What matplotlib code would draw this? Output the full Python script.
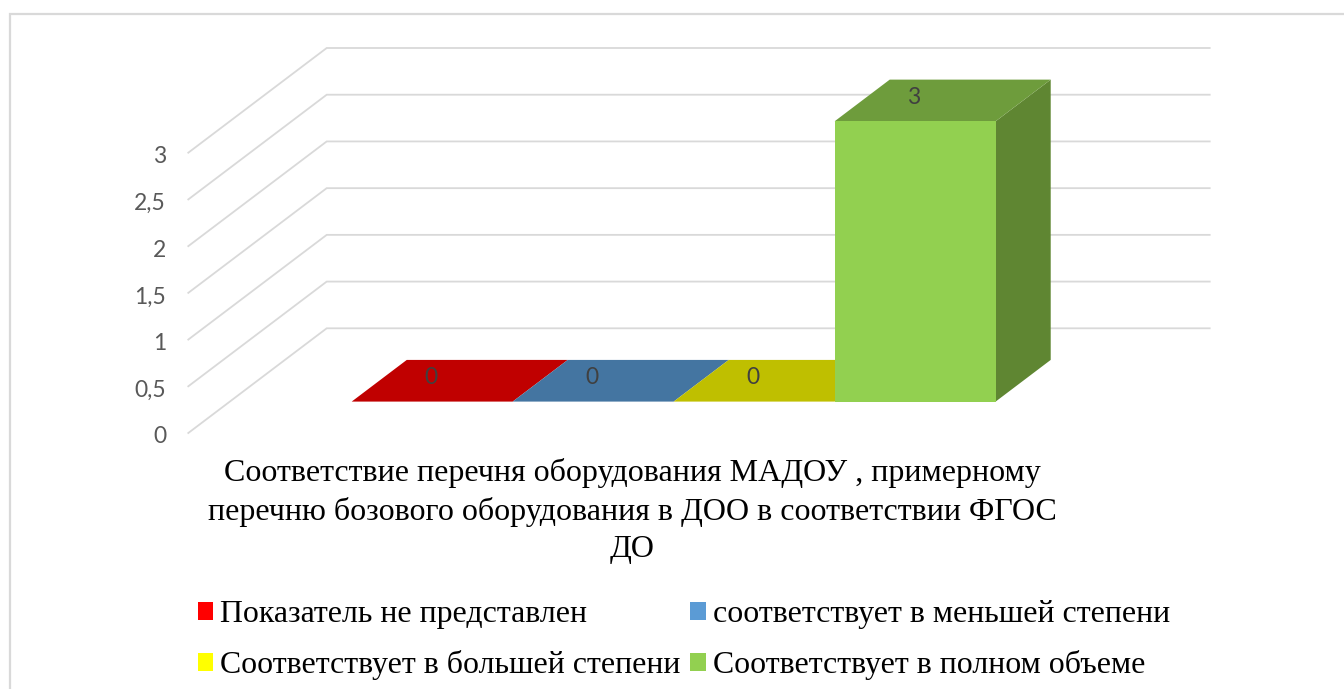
import matplotlib
matplotlib.use("Agg")
import matplotlib.pyplot as plt
from matplotlib.patches import Polygon, Rectangle
from matplotlib.lines import Line2D
from matplotlib.transforms import ScaledTranslation

# ---- data ----
series_names = ["Показатель не представлен", "соответствует в меньшей степени",
                "Соответствует в большей степени", "Соответствует в полном объеме"]
series_values = [0, 0, 0, 3]
tick_values = [0, 0.5, 1, 1.5, 2, 2.5, 3]
tick_labels = ["0", "0,5", "1", "1,5", "2", "2,5", "3"]
legend_colors = ["#FF0000", "#5B9BD5", "#FFFF00", "#92D050"]
top_colors = ["#C00000", "#4475A1", "#BFBF00", "#6E9C3C"]
side_colors = ["#A00000", "#3A6288", "#A0A000", "#5F8632"]
title_text = ("Соответствие перечня оборудования МАДОУ , примерному\n"
              "перечню бозового оборудования в ДОО в соответствии ФГОС\n"
              "ДО")

W, H = 1344, 689
fig = plt.figure(figsize=(W / 100, H / 100), dpi=100, facecolor="white")

# front plane of the 3-D box, in figure pixels
L, R, B, T = 188.3, 1071.3, 433.0, 152.7
ax = fig.add_axes([L / W, 1 - B / H, (R - L) / W, (B - T) / H])
ax.set_xlim(-1.257, 4.228)
ax.set_ylim(0, 3)
ax.patch.set_visible(False)
for s in ax.spines.values():
    s.set_visible(False)
ax.set_xticks([])
ax.set_yticks(tick_values)
ax.set_yticklabels(tick_labels, family="Lato", fontsize=16.5, color="#595959")
ax.tick_params(axis="y", length=0, pad=16)
shift = ScaledTranslation(0, -2 / 100, fig.dpi_scale_trans)
for lab in ax.get_yticklabels():
    lab.set_transform(lab.get_transform() + shift)

DX, DY = 138.4, 104.7   # depth of the box, pixels


def pts(x, y, d):
    """data point pushed back by depth d, returned in display coordinates"""
    px, py = ax.transData.transform((x, y))
    return (px + DX * d, py + DY * d)


grid_c = "#D9D9D9"
xmin, xmax = ax.get_xlim()
for v in tick_values:
    a, b, c = pts(xmin, v, 0), pts(xmin, v, 1), pts(xmax, v, 1)
    fig.add_artist(Line2D([a[0], b[0], c[0]], [a[1], b[1], c[1]], color=grid_c, lw=1.3,
                          transform=None, solid_joinstyle="miter", zorder=0.5))

d0, d1 = 0.30, 0.698
for i, v in enumerate(series_values):
    x0, x1 = i - 0.5, i + 0.5
    if v > 0:
        side = [pts(x1, 0, d0), pts(x1, 0, d1), pts(x1, v, d1), pts(x1, v, d0)]
        fig.add_artist(Polygon(side, closed=True, fc=side_colors[i], ec="none", transform=None, zorder=1))
    top = [pts(x0, v, d0), pts(x1, v, d0), pts(x1, v, d1), pts(x0, v, d1)]
    fig.add_artist(Polygon(top, closed=True, fc=top_colors[i], ec="none", transform=None, zorder=1.1))
    if v > 0:
        p0, p1 = pts(x0, 0, d0), pts(x1, v, d0)
        fig.add_artist(Polygon([p0, (p1[0], p0[1]), p1, (p0[0], p1[1])], closed=True,
                               fc=legend_colors[i], ec="none", transform=None, zorder=1.2))
    lx, ly = pts(i, v, d0)
    fig.text((lx - 1.2) / W, (ly + 23.8) / H, str(v).replace(".", ","), family="Lato", fontsize=16.5,
             color="#404040", ha="center", va="center", zorder=3)

# title
fig.text(632 / W, 1 - 511 / H, title_text, family="Liberation Serif", fontsize=23,
         color="black", ha="center", va="center", linespacing=1.37)

# legend, written by columns
order = [0, 2, 1, 3]
handles = [Rectangle((0, 0), 1, 1, fc=legend_colors[i], ec="none") for i in order]
fig.legend(handles, [series_names[i] for i in order], ncol=2, frameon=False,
           loc="upper left", bbox_to_anchor=(197.5 / W, 1 - 600 / H), borderpad=0, borderaxespad=0,
           prop={"family": "Liberation Serif", "size": 22.95},
           handlelength=0.486, handleheight=0.486, handletextpad=0.22,
           labelspacing=0.67, columnspacing=0.31, labelcolor="black")

# picture frame: top and left edges are inside the crop
fc = "#D9D9D9"
fig.add_artist(Line2D([10, 10, W], [0, H - 14, H - 14], color=fc, lw=1.6,
                      transform=None, solid_joinstyle="miter"))

fig.savefig("out.png", dpi=100)
